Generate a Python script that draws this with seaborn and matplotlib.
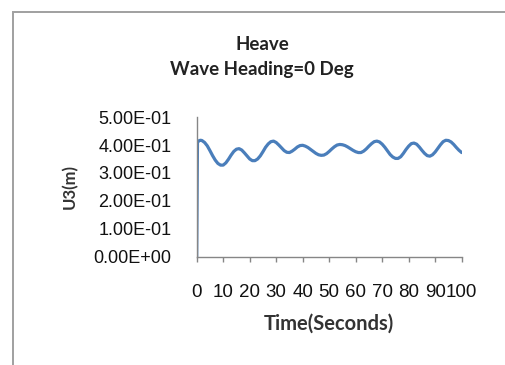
import matplotlib
matplotlib.use("Agg")
import matplotlib.pyplot as plt
import matplotlib.patches as mpatches
import seaborn as sns
import pandas as pd

# Heave response time series (U3, metres) for 0 deg wave heading
time_s = [0, 0.3, 1, 1.5, 2, 3, 4, 5, 6, 7, 8, 9, 10, 11, 12, 13, 14, 15, 16, 17,
          18, 19, 20, 21, 22, 23, 24, 25, 26, 27, 28, 29, 30, 31, 32, 33, 34, 35,
          36, 37, 38, 39, 40, 41, 42, 43, 44, 45, 46, 47, 48, 49, 50, 51, 52, 53,
          54, 55, 56, 57, 58, 59, 60, 61, 62, 63, 64, 65, 66, 67, 68, 69, 70, 71,
          72, 73, 74, 75, 76, 77, 78, 79, 80, 81, 82, 83, 84, 85, 86, 87, 88, 89,
          90, 91, 92, 93, 94, 95, 96, 97, 98, 99, 100]
u3_m = [0.000, 0.410, 0.416, 0.417, 0.416, 0.409, 0.397, 0.380, 0.362, 0.346,
        0.334, 0.328, 0.328, 0.336, 0.349, 0.364, 0.377, 0.385, 0.387, 0.382,
        0.372, 0.361, 0.350, 0.344, 0.344, 0.350, 0.361, 0.376, 0.392, 0.404,
        0.412, 0.414, 0.409, 0.400, 0.390, 0.380, 0.374, 0.373, 0.378, 0.385,
        0.393, 0.398, 0.399, 0.396, 0.391, 0.384, 0.377, 0.370, 0.365, 0.363,
        0.364, 0.369, 0.377, 0.386, 0.394, 0.400, 0.402, 0.401, 0.398, 0.393,
        0.387, 0.381, 0.376, 0.373, 0.373, 0.378, 0.386, 0.396, 0.405, 0.412,
        0.414, 0.411, 0.403, 0.392, 0.379, 0.366, 0.357, 0.352, 0.352, 0.358,
        0.370, 0.384, 0.396, 0.405, 0.407, 0.403, 0.393, 0.381, 0.370, 0.362,
        0.360, 0.365, 0.375, 0.388, 0.401, 0.412, 0.417, 0.416, 0.411, 0.402,
        0.391, 0.381, 0.373]

x_ticks = [0, 10, 20, 30, 40, 50, 60, 70, 80, 90, 100]
y_ticks = [0.0, 0.1, 0.2, 0.3, 0.4, 0.5]
y_tick_labels = ["0.00E+00", "1.00E-01", "2.00E-01", "3.00E-01", "4.00E-01", "5.00E-01"]

df = pd.DataFrame({"Time": time_s, "U3": u3_m})

sns.set_theme(style="white")
plt.rcParams["font.family"] = ["Liberation Sans", "DejaVu Sans"]

fig = plt.figure(figsize=(5.06, 3.65), dpi=100)
ax = fig.add_axes([0.3887, 0.2967, 0.5237, 0.3825])

sns.lineplot(data=df, x="Time", y="U3", ax=ax, color="#4A7EBB", linewidth=2.3)

ax.set_xlim(0, 100)
ax.set_ylim(0, 0.5)
ax.set_xticks(x_ticks)
ax.set_xticklabels([str(t) for t in x_ticks])
ax.set_yticks(y_ticks)
ax.set_yticklabels(y_tick_labels)

for side in ("top", "right"):
    ax.spines[side].set_visible(False)
for side in ("left", "bottom"):
    ax.spines[side].set_color("#868686")
    ax.spines[side].set_linewidth(1.0)

ax.tick_params(axis="x", direction="out", length=3.6, width=1, color="#868686",
               pad=16, labelsize=13.5, labelcolor="#111111", bottom=True)
ax.tick_params(axis="y", length=0, pad=18, labelsize=13, labelcolor="#111111")

label_font = dict(fontweight="bold", color="#333333", family=["Lato", "DejaVu Sans"])
ax.set_xlabel("Time(Seconds)", fontsize=14.5, va="baseline", **label_font)
ax.xaxis.set_label_coords(0.5, -0.523)
ax.set_ylabel("U3(m)", fontsize=12, va="center", **label_font)
ax.yaxis.set_label_coords(-0.48, 0.5)

title_font = dict(ha="center", va="baseline", fontsize=13.5, fontweight="bold",
                  color="#222222", family=["Lato", "DejaVu Sans"])
fig.text(0.518, 0.863, "Heave", **title_font)
fig.text(0.518, 0.7945, "Wave Heading=0 Deg", **title_font)

# chart-area frame, running off the right and bottom edges
frame = mpatches.Rectangle((13.5 / 506, -0.1), 1.2, (365 - 11.5) / 365 + 0.1,
                           transform=fig.transFigure, fill=False,
                           edgecolor="#A0A0A0", linewidth=1.4)
fig.add_artist(frame)

fig.savefig("out.png", dpi=100)
